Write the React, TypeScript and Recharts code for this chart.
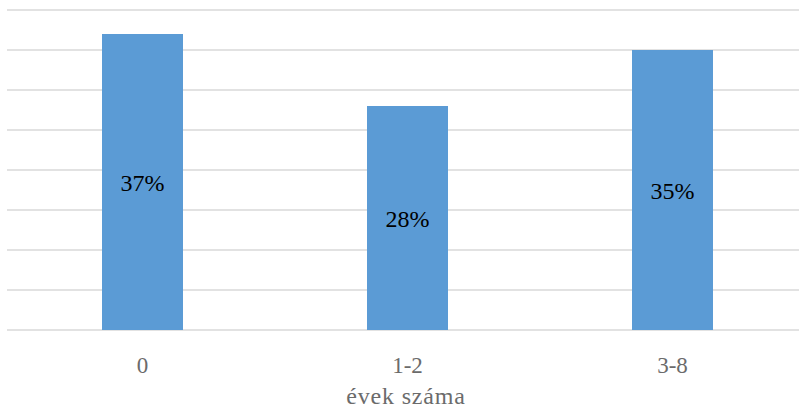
import React from 'react';
import { BarChart, Bar, XAxis, YAxis, CartesianGrid, LabelList } from 'recharts';

const categories = ['0', '1-2', '3-8'];
const shares = [37, 28, 35];
const yTicks = [0, 5, 10, 15, 20, 25, 30, 35, 40];
const xTitle = 'évek száma';

const data = categories.map((c, i) => ({ name: c, value: shares[i] }));

const FONT = '"Liberation Serif", "DejaVu Serif", serif';

export default function App() {
  return (
    <div style={{ position: 'absolute', left: 0, top: 0, width: 799, height: 408, overflow: 'hidden', background: '#fff' }}>
      <BarChart width={805} height={408} data={data} margin={{ top: 10, right: 0, left: 7, bottom: 0 }}>
        <CartesianGrid vertical={false} stroke="#d9d9d9" strokeWidth={1.3} />
        <YAxis hide domain={[0, 40]} ticks={yTicks} />
        <XAxis
          dataKey="name"
          height={78}
          axisLine={false}
          tickLine={false}
          tickSize={0}
          tickMargin={27}
          padding={{ left: 3, right: 0 }}
          tick={{ fill: '#6b6b6b', fontSize: 23, fontFamily: FONT }}
          label={{ value: xTitle, position: 'insideBottom', offset: 4, fill: '#6b6b6b', fontSize: 24, fontFamily: FONT, letterSpacing: 0.8 }}
        />
        <Bar dataKey="value" fill="#5b9bd5" barSize={81} isAnimationActive={false}>
          <LabelList
            dataKey="value"
            position="center"
            formatter={(v: any) => `${v}%`}
            style={{ fill: '#000', fontSize: 24, fontFamily: FONT }}
          />
        </Bar>
      </BarChart>
    </div>
  );
}
